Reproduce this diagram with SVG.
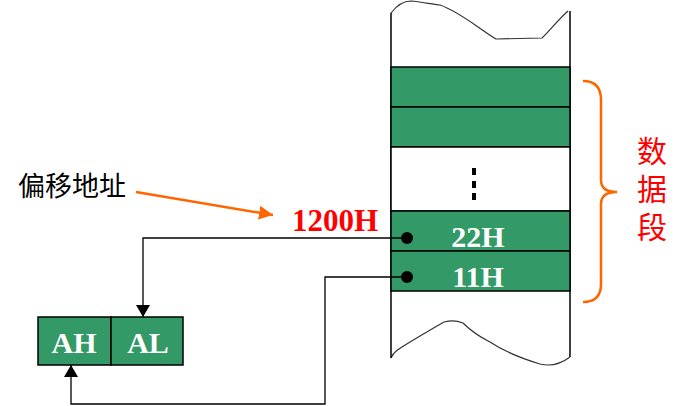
<svg xmlns="http://www.w3.org/2000/svg" width="687" height="406" viewBox="0 0 687 406">
<style>
.cell{fill:#339966;stroke:#000;stroke-width:1.5}
.wt{font-family:"Liberation Serif",serif;font-weight:bold;font-size:30px;fill:#fff;text-anchor:middle}
.conn{fill:none;stroke:#000;stroke-width:1.3}
.wave{fill:none;stroke:#333;stroke-width:1.2}
</style>
<defs>
<marker id="ah" markerWidth="12" markerHeight="16" refX="12" refY="8" orient="auto" markerUnits="userSpaceOnUse">
<path d="M0,1 L12,8 L0,15 Z" fill="#000"/>
</marker>
<marker id="oh" markerWidth="14" markerHeight="14" refX="14" refY="7" orient="auto" markerUnits="userSpaceOnUse">
<path d="M0,0 L14,7 L0,14 Z" fill="#FF6600"/>
</marker>
</defs>
<g id="memory">
<path class="wave" d="M391,13 C397,5 404,1 411,1 C420,2 432,4 440,5 C460,12 478,28 496,39 L542,38 C550,30 560,18 568,11"/>
<path class="wave" d="M391,358 C393,352 400,348 410,342 C420,336 430,330 444,322 C452,320 458,321 463,323 C470,330 478,336 490,342 C505,352 520,358 540,364 C552,367 562,363 570,357"/>
<line x1="391" y1="13" x2="391" y2="358" stroke="#000" stroke-width="1.5"/>
<line x1="570" y1="11" x2="570" y2="357" stroke="#000" stroke-width="1.5"/>
<rect class="cell" x="391" y="67" width="179" height="40"/>
<rect class="cell" x="391" y="107" width="179" height="40"/>
<rect x="391" y="147" width="179" height="64" fill="#fff" stroke="#000" stroke-width="1.5"/>
<g fill="#000"><rect x="472" y="168" width="4" height="7"/><rect x="472" y="181" width="4" height="7"/><rect x="472" y="193" width="4" height="7"/></g>
<rect class="cell" x="391" y="211" width="179" height="40"/>
<rect class="cell" x="391" y="251" width="179" height="40"/>
<text class="wt" x="478" y="247">22H</text>
<text class="wt" x="478" y="287">11H</text>
</g>
<g id="register">
<rect class="cell" x="38" y="317" width="73" height="48"/>
<rect class="cell" x="111" y="317" width="72" height="48"/>
<text class="wt" x="74" y="353">AH</text>
<text class="wt" x="148" y="353">AL</text>
</g>
<g id="labels">
<text x="18" y="196" font-family="'Noto Sans CJK SC',sans-serif" font-size="27" fill="#000">偏移地址</text>
<text x="335" y="231" font-family="'Liberation Serif',serif" font-weight="bold" font-size="31" fill="#FF0000" text-anchor="middle">1200H</text>
<text x="652" y="136" writing-mode="vertical-rl" letter-spacing="8" font-family="'Noto Sans CJK SC',sans-serif" font-size="30" fill="#FF0000">数据段</text>
<path d="M583,81 Q601,81 601,100 L601,180 Q601,192 617,192 Q601,192 601,204 L601,284 Q601,302 583,302" fill="none" stroke="#FF6600" stroke-width="2.5"/>
</g>
<g id="connectors">
<path d="M136,192 L273,215" fill="none" stroke="#FF6600" stroke-width="2.5" marker-end="url(#oh)"/>
<path class="conn" d="M407,238 L143,238 L143,317" marker-end="url(#ah)"/>
<path class="conn" d="M407,277 L325,277 L325,404 L71,404 L71,365" marker-end="url(#ah)"/>
<circle cx="407" cy="238" r="6" fill="#000"/>
<circle cx="407" cy="277" r="6" fill="#000"/>
</g>
</svg>
